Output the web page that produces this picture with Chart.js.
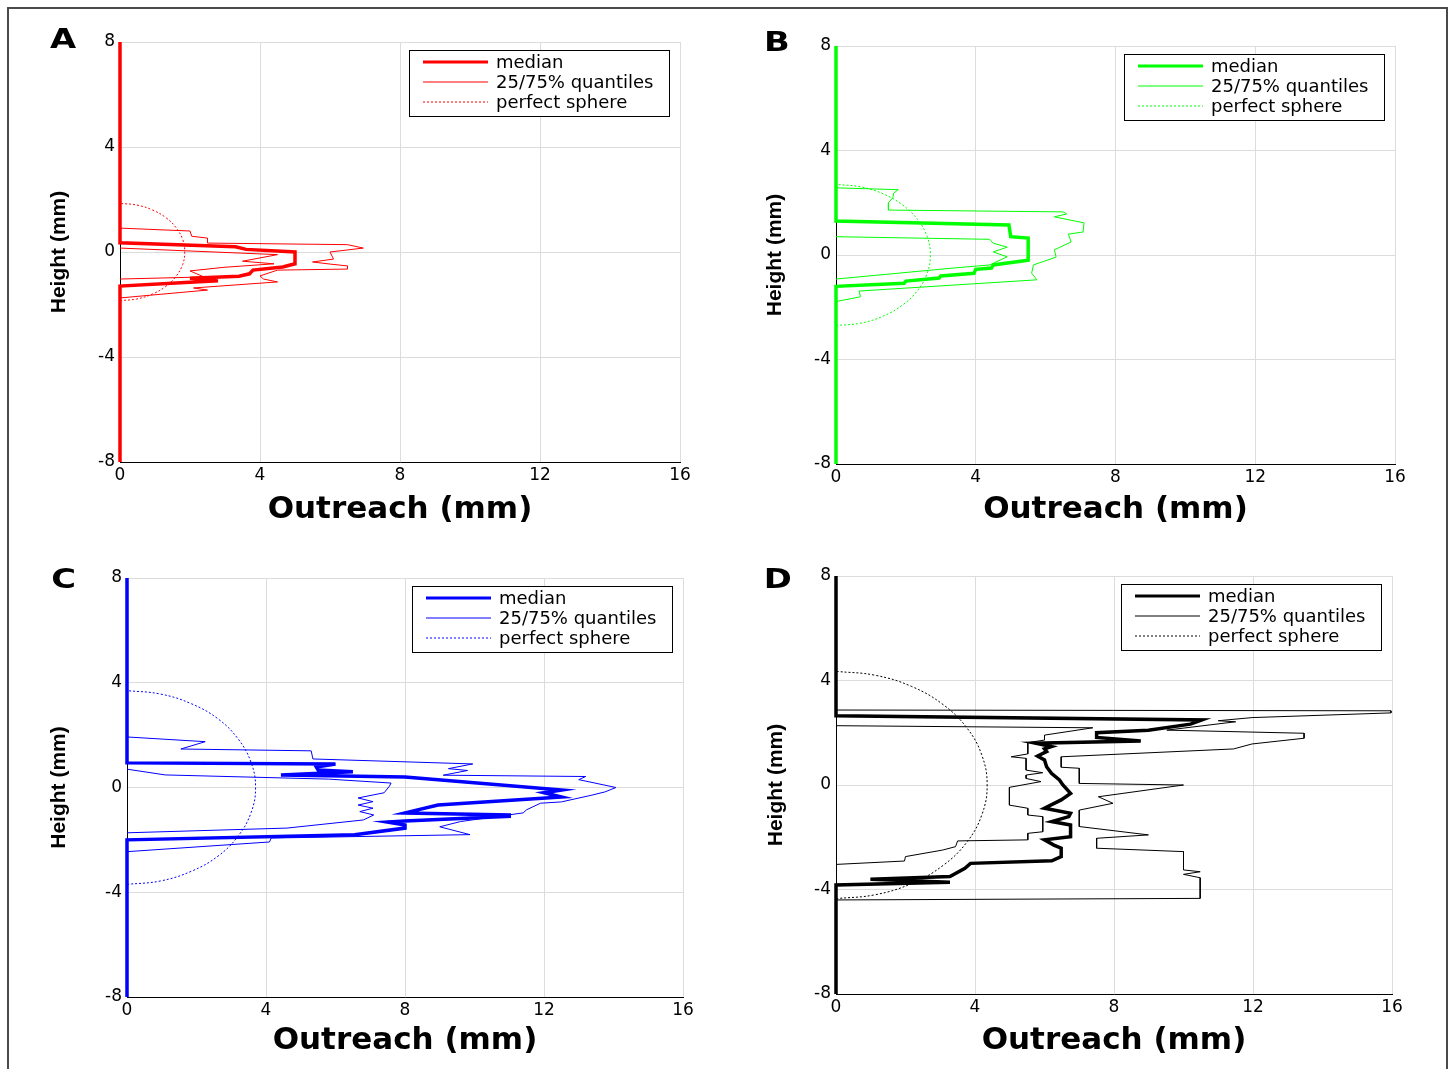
<!DOCTYPE html>
<html>
<head>
<title>Outreach vs Height</title>
<script src="https://cdn.jsdelivr.net/npm/chart.js@4.4.1/dist/chart.umd.min.js"></script>
<style>
body { margin: 0; background: #fff; }
#frame { position: absolute; left: 7px; top: 7px; width: 1437px; height: 1100px; border: 2px solid #4a4a4a; border-bottom: none; }
.panel { position: absolute; }
.letter { position: absolute; font: bold 26px "DejaVu Sans"; line-height: 26px; transform: scaleX(1.3); transform-origin: center; color: #000; }
</style>
</head>
<body>
<div id="frame"></div>
<div class="panel" style="left:20px;top:22px"><canvas id="chartA" width="680" height="510"></canvas></div>
<div class="panel" style="left:736px;top:26px"><canvas id="chartB" width="679" height="508"></canvas></div>
<div class="panel" style="left:27px;top:558px"><canvas id="chartC" width="676" height="509"></canvas></div>
<div class="panel" style="left:736px;top:556px"><canvas id="chartD" width="676" height="508"></canvas></div>
<div class="letter" id="letA" style="left:53px;top:26px"></div>
<div class="letter" id="letB" style="left:767px;top:29px"></div>
<div class="letter" id="letC" style="left:54px;top:566px"></div>
<div class="letter" id="letD" style="left:767px;top:566px"></div>

<script type="text/javascript">
// axis ticks and text
var xTicks = [0, 4, 8, 12, 16];
var yTicks = [-8, -4, 0, 4, 8];
var panelLetters = ['A', 'B', 'C', 'D'];
var legendLabels = ['median', '25/75% quantiles', 'perfect sphere'];
var xTitle = 'Outreach (mm)';
var yTitle = 'Height (mm)';

// panel A (red)
var medA_x = [0, 0, 3.3, 3.6, 5.0, 5.0, 4.65, 3.8, 3.7, 3.4, 2.0, 2.8, 2.0, 0, 0];
var medA_y = [8, 0.35, 0.2, 0.1, 0.0, -0.45, -0.57, -0.69, -0.83, -0.92, -1.0, -1.1, -1.15, -1.3, -8];
var q25A_x = [0, 4.5, 3.5, 4.4, 3.0, 2.0, 2.4, 0];
var q25A_y = [0.15, -0.1, -0.35, -0.45, -0.58, -0.72, -0.95, -1.03];
var q75A_x = [0, 2.0, 2.05, 2.5, 2.5, 6.5, 6.95, 6.0, 6.1, 5.5, 6.0, 6.5, 6.5, 4.5, 4.0, 4.1, 4.5, 2.1, 2.5, 0];
var q75A_y = [0.91, 0.8, 0.6, 0.53, 0.34, 0.28, 0.15, 0.0, -0.27, -0.38, -0.46, -0.53, -0.65, -0.69, -0.91, -1.03, -1.14, -1.37, -1.45, -1.75];
var sphA_x = [0, 0.48, 0.93, 1.31, 1.60, 1.79, 1.85, 1.79, 1.60, 1.31, 0.93, 0.48, 0];
var sphA_y = [-1.85, -1.79, -1.60, -1.31, -0.93, -0.48, 0, 0.48, 0.93, 1.31, 1.60, 1.79, 1.85];

// panel B (green)
var medB_x = [0, 0, 4.95, 5.0, 5.5, 5.5, 4.5, 4.45, 4.0, 3.95, 3.0, 2.95, 2.0, 1.95, 0, 0];
var medB_y = [8, 1.3, 1.15, 0.7, 0.65, -0.2, -0.38, -0.5, -0.55, -0.7, -0.8, -0.88, -1.0, -1.08, -1.2, -8];
var q25B_x = [0, 4.4, 4.5, 4.9, 4.5, 4.9, 4.4, 3.35, 0];
var q25B_y = [0.7, 0.6, 0.45, 0.3, 0.12, -0.07, -0.38, -0.5, -0.92];
var q75B_x = [0, 1.78, 1.65, 1.63, 1.5, 1.5, 6.5, 6.6, 6.25, 7.1, 7.07, 6.65, 6.73, 6.25, 6.3, 5.65, 5.6, 5.75, 0.66, 0.7, 0.08, 0];
var q75B_y = [2.57, 2.5, 2.37, 2.2, 2.0, 1.72, 1.65, 1.57, 1.46, 1.23, 0.88, 0.8, 0.5, 0.2, -0.08, -0.38, -0.7, -0.95, -1.38, -1.6, -1.76, -1.8];
var sphB_x = [0, 0.70, 1.35, 1.91, 2.34, 2.61, 2.70, 2.61, 2.34, 1.91, 1.35, 0.70, 0];
var sphB_y = [-2.70, -2.61, -2.34, -1.91, -1.35, -0.70, 0, 0.70, 1.35, 1.91, 2.34, 2.61, 2.70];

// panel C (blue)
var medC_x = [0, 0, 6.0, 5.45, 5.5, 6.5, 4.43, 8.0, 12.5, 12.0, 12.5, 8.95, 8.0, 11.0, 11.0, 8.0, 7.5, 8.0, 8.0, 6.55, 0, 0];
var medC_y = [8, 0.94, 0.9, 0.78, 0.67, 0.6, 0.48, 0.4, -0.1, -0.2, -0.36, -0.67, -0.97, -1.05, -1.1, -1.28, -1.32, -1.43, -1.55, -1.8, -2.0, -8];
var q25C_x = [0, 1.1, 5.8, 7.6, 7.55, 7.4, 6.65, 7.08, 6.65, 7.08, 6.7, 7.1, 6.8, 4.6, 0];
var q25C_y = [0.7, 0.48, 0.32, 0.17, 0.05, -0.2, -0.4, -0.54, -0.67, -0.79, -0.92, -1.05, -1.24, -1.55, -1.73];
var q75C_x = [0, 2.25, 1.55, 5.3, 5.35, 9.95, 9.25, 9.8, 9.1, 13.2, 13.0, 14.07, 13.75, 13.35, 12.5, 11.9, 11.5, 11.4, 9.6, 9.0, 9.87, 4.15, 4.1, 0];
var q75C_y = [1.93, 1.75, 1.47, 1.4, 1.09, 0.9, 0.72, 0.65, 0.47, 0.42, 0.3, 0.0, -0.17, -0.3, -0.55, -0.6, -0.85, -0.97, -1.3, -1.5, -1.8, -1.93, -2.08, -2.45];
var sphC_x = [0, 0.96, 1.85, 2.62, 3.20, 3.57, 3.70, 3.57, 3.20, 2.62, 1.85, 0.96, 0];
var sphC_y = [-3.70, -3.57, -3.20, -2.62, -1.85, -0.96, 0, 0.96, 1.85, 2.62, 3.20, 3.57, 3.70];

// panel D (black)
var medD_x = [0, 0, 10.53, 10.2, 8.99, 7.5, 7.5, 8.77, 5.74, 6.2, 6.0, 6.06, 5.8, 6.0, 6.06, 6.2, 6.43, 6.53, 6.75, 6.48, 6.0, 6.75, 6.7, 6.21, 6.75, 6.75, 6.0, 6.27, 6.48, 6.48, 6.21, 3.87, 3.71, 3.28, 0.99, 3.28, 0, 0];
var medD_y = [8, 2.65, 2.49, 2.33, 2.1, 2.0, 1.82, 1.68, 1.6, 1.47, 1.38, 1.28, 1.11, 0.96, 0.7, 0.45, 0.19, 0, -0.32, -0.57, -0.89, -1.08, -1.21, -1.4, -1.53, -1.98, -2.1, -2.3, -2.42, -2.74, -2.9, -3.0, -3.19, -3.5, -3.61, -3.72, -3.83, -8];
var q25D_x = [0, 7.39, 6.0, 6.0, 5.52, 5.52, 5.04, 5.47, 5.47, 5.95, 5.47, 5.47, 5.9, 4.99, 4.99, 5.52, 5.52, 5.95, 5.95, 5.52, 5.52, 3.5, 3.44, 3.07, 2.0, 1.97, 0];
var q25D_y = [2.27, 2.19, 1.91, 1.72, 1.62, 1.19, 1.08, 1.02, 0.57, 0.47, 0.38, 0.25, 0.13, -0.09, -0.77, -0.89, -1.15, -1.21, -1.79, -1.85, -2.1, -2.14, -2.36, -2.49, -2.74, -2.91, -3.04];
var q75D_x = [0, 15.97, 15.97, 11.97, 11.0, 11.5, 9.52, 13.47, 13.47, 11.97, 11.44, 6.48, 6.48, 7.0, 7.0, 10.0, 7.55, 7.97, 7.0, 7.0, 8.99, 7.5, 7.5, 10.0, 10.0, 10.48, 10.0, 10.48, 10.48, 0];
var q75D_y = [2.87, 2.84, 2.76, 2.58, 2.46, 2.42, 2.1, 1.98, 1.79, 1.57, 1.38, 1.08, 0.68, 0.64, 0.06, 0, -0.45, -0.7, -0.96, -1.59, -1.91, -2.04, -2.42, -2.55, -3.25, -3.32, -3.42, -3.55, -4.34, -4.4];
var sphD_x = [0, 1.13, 2.18, 3.08, 3.77, 4.20, 4.35, 4.20, 3.77, 3.08, 2.18, 1.13, 0];
var sphD_y = [-4.35, -4.20, -3.77, -3.08, -2.18, -1.13, 0, 1.13, 2.18, 3.08, 3.77, 4.20, 4.35];

function pts(xs, ys){
	return xs.map(function(x, i){ return {x: x, y: ys[i]}; });
}

// legend drawn as a framed box in the upper right of the plot area
var boxLegend = {
	id: 'boxLegend',
	afterDatasetsDraw: function(chart){
		var ctx = chart.ctx, a = chart.chartArea;
		var w = 260, h = 66;
		var left = Math.round(a.right - 11 - w), top = Math.round(a.top + 8);
		ctx.save();
		ctx.fillStyle = '#fff';
		ctx.fillRect(left, top, w, h);
		ctx.strokeStyle = '#000';
		ctx.lineWidth = 1;
		ctx.strokeRect(left + 0.5, top + 0.5, w, h);
		var items = chart.data.datasets.filter(function(d){ return d.label; });
		items.forEach(function(d, i){
			var y = top + 12 + i * 20;
			ctx.strokeStyle = d.borderColor;
			ctx.lineWidth = d.borderWidth > 2 ? 3 : 1;
			ctx.setLineDash(d.borderDash || []);
			ctx.beginPath();
			ctx.moveTo(left + 14, y);
			ctx.lineTo(left + 79, y);
			ctx.stroke();
			ctx.setLineDash([]);
			ctx.fillStyle = '#000';
			ctx.font = '18px "DejaVu Sans"';
			ctx.textBaseline = 'middle';
			ctx.fillText(d.label, left + 87, y + 1);
		});
		ctx.restore();
	}
};

function makeChart(id, color, med, q25, q75, sph, titleBottom, titleLeft){
	var ctx = document.getElementById(id);
	return new Chart(ctx, {
		type: 'scatter',
		data: {
			datasets: [
				{ label: legendLabels[0], data: pts(med[0], med[1]), borderColor: color, borderWidth: 3.5, showLine: true, pointRadius: 0, clip: 5 },
				{ label: legendLabels[1], data: pts(q25[0], q25[1]), borderColor: color, borderWidth: 1, showLine: true, pointRadius: 0, clip: 5 },
				{ label: '', data: pts(q75[0], q75[1]), borderColor: color, borderWidth: 1, showLine: true, pointRadius: 0, clip: 5 },
				{ label: legendLabels[2], data: pts(sph[0], sph[1]), borderColor: color, borderWidth: 1, borderDash: [2, 2], tension: 0.4, showLine: true, pointRadius: 0, clip: 5 }
			]
		},
		options: {
			responsive: false,
			animation: false,
			layout: { padding: { top: 20, right: 20, left: 0, bottom: 0 } },
			plugins: { legend: { display: false }, tooltip: { enabled: false } },
			scales: {
				x: {
					type: 'linear', min: 0, max: 16,
					afterBuildTicks: function(s){ s.ticks = xTicks.map(function(v){ return {value: v}; }); },
					afterFit: function(s){ s.height = 70; },
					grid: { color: '#dcdcdc', drawTicks: false },
					border: { color: '#000', width: 1 },
					ticks: { color: '#000', padding: 3, maxRotation: 0, font: { family: 'DejaVu Sans', size: 17 } },
					title: { display: true, text: xTitle, color: '#000', padding: { top: 0, bottom: titleBottom }, font: { family: 'DejaVu Sans', size: 31, weight: 'bold' } }
				},
				y: {
					type: 'linear', min: -8, max: 8,
					afterBuildTicks: function(s){ s.ticks = yTicks.map(function(v){ return {value: v}; }); },
					afterFit: function(s){ s.width = 100; },
					grid: { color: '#dcdcdc', drawTicks: false },
					border: { color: '#000', width: 1 },
					ticks: { color: '#000', padding: 5, font: { family: 'DejaVu Sans', size: 17 } },
					title: { display: true, text: yTitle, color: '#000', padding: { top: titleLeft, bottom: 0 }, font: { family: 'Liberation Sans', size: 21, weight: 'bold' } }
				}
			}
		},
		plugins: [boxLegend]
	});
}

document.getElementById('letA').textContent = panelLetters[0];
document.getElementById('letB').textContent = panelLetters[1];
document.getElementById('letC').textContent = panelLetters[2];
document.getElementById('letD').textContent = panelLetters[3];

makeChart('chartA', '#ff0000', [medA_x, medA_y], [q25A_x, q25A_y], [q75A_x, q75A_y], [sphA_x, sphA_y], 3, 27);
makeChart('chartB', '#00ff00', [medB_x, medB_y], [q25B_x, q25B_y], [q75B_x, q75B_y], [sphB_x, sphB_y], 5, 27);
makeChart('chartC', '#0000ff', [medC_x, medC_y], [q25C_x, q25C_y], [q75C_x, q75C_y], [sphC_x, sphC_y], 7, 20);
makeChart('chartD', '#000000', [medD_x, medD_y], [q25D_x, q25D_y], [q75D_x, q75D_y], [sphD_x, sphD_y], 4, 28);
</script>
</body>
</html>
